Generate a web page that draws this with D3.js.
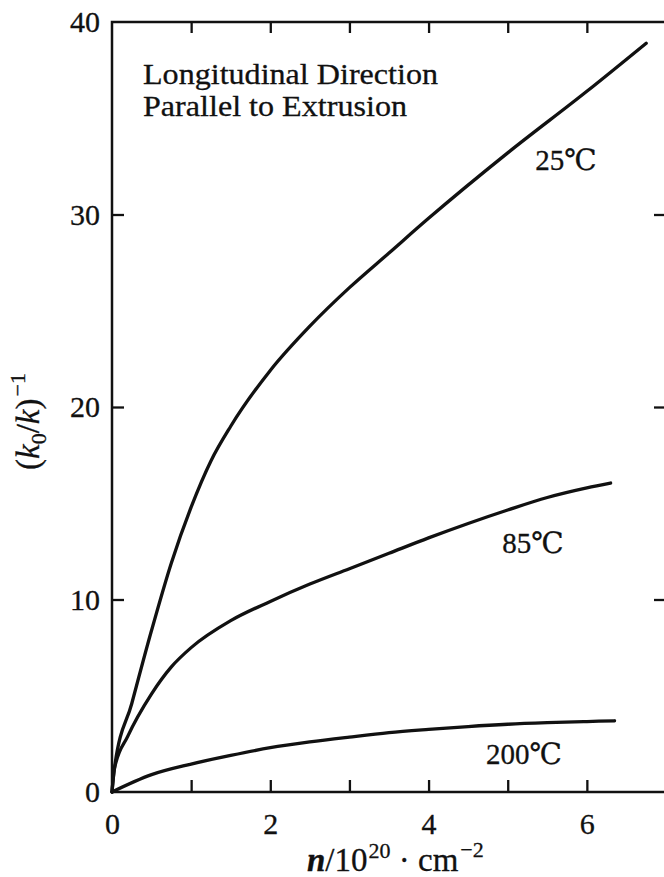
<!DOCTYPE html>
<html>
<head>
<meta charset="utf-8">
<script src="https://cdn.jsdelivr.net/npm/d3@7/dist/d3.min.js"></script>
<style>
  html, body { margin: 0; padding: 0; background: #fff; }
  svg { display: block; }
  text { font-family: "Liberation Serif", "Times New Roman", serif; fill: #111; stroke: #111; stroke-width: 0.3px; }
  text.curve-label { font-family: "Liberation Serif", "DejaVu Serif", serif; }
</style>
</head>
<body>
<svg id="chart" width="664" height="877"></svg>
<script>
// Fluence n (10^20 cm^-2) and relative thermal resistance (k0/k)^-1 per irradiation temperature
const n25 = [0, 0.03, 0.25, 0.5, 0.75, 1.0, 1.25, 1.5, 2.0, 2.5, 3.0, 3.5, 4.0, 5.0, 6.0, 6.75];
const v25 = [0, 1.2, 4.6, 8.4, 11.9, 14.8, 17.2, 19.0, 21.9, 24.2, 26.2, 28.0, 29.8, 33.2, 36.4, 38.9];
const n85 = [0, 0.03, 0.2, 0.5, 0.75, 1.0, 1.5, 2.0, 2.5, 3.0, 3.5, 4.0, 4.5, 5.0, 5.5, 6.0, 6.3];
const v85 = [0, 1.2, 2.9, 5.1, 6.5, 7.5, 8.9, 9.9, 10.8, 11.6, 12.4, 13.2, 13.95, 14.65, 15.3, 15.8, 16.05];
const n200 = [0, 0.5, 1.0, 1.5, 2.0, 2.5, 3.0, 3.5, 4.0, 4.5, 5.0, 5.5, 6.0, 6.35];
const v200 = [0, 0.9, 1.45, 1.9, 2.3, 2.6, 2.85, 3.08, 3.25, 3.4, 3.52, 3.6, 3.66, 3.7];

const seriesLabels = ["25℃", "85℃", "200℃"];
const xTicks = [0, 1, 2, 3, 4, 5, 6, 7];
const xTickLabels = [0, 2, 4, 6];
const yTicks = [0, 10, 20, 30, 40];
const noteLines = ["Longitudinal Direction", "Parallel to Extrusion"];

const svg = d3.select("#chart");
const x = d3.scaleLinear().domain([0, 7]).range([112, 666]);
const y = d3.scaleLinear().domain([0, 40]).range([792, 22]);

// frame
svg.append("rect")
  .attr("x", x(0)).attr("y", y(40))
  .attr("width", x(7) - x(0)).attr("height", y(0) - y(40))
  .attr("fill", "none").attr("stroke", "#111").attr("stroke-width", 2.5);

function styleAxis(g) {
  g.select(".domain").remove();
  g.selectAll(".tick line").attr("stroke", "#111").attr("stroke-width", 2.3);
  g.selectAll(".tick text").style("font-size", "30px");
}

// bottom axis, ticks pointing inward
svg.append("g")
  .attr("transform", `translate(0,${y(0)})`)
  .call(d3.axisBottom(x).tickValues(xTicks).tickSize(-12).tickPadding(21)
    .tickFormat(d => xTickLabels.includes(d) ? d : ""))
  .call(styleAxis);

// top axis, ticks only
svg.append("g")
  .attr("transform", `translate(0,${y(40)})`)
  .call(d3.axisTop(x).tickValues(xTicks.slice(1, 7)).tickSize(-11).tickFormat(""))
  .call(styleAxis);

// left axis
svg.append("g")
  .attr("transform", `translate(${x(0)},0)`)
  .call(d3.axisLeft(y).tickValues(yTicks).tickSize(-12).tickPadding(12))
  .call(styleAxis)
  .call(g => g.selectAll(".tick").filter(d => d === 0 || d === 40).select("line").remove());

// right axis, ticks only
svg.append("g")
  .attr("transform", `translate(${x(7)},0)`)
  .call(d3.axisRight(y).tickValues([10, 20, 30]).tickSize(-12).tickFormat(""))
  .call(styleAxis);

// curves
const line = d3.line()
  .x(d => x(d[0])).y(d => y(d[1]))
  .curve(d3.curveMonotoneX);

const series = [
  { n: n25, v: v25 },
  { n: n85, v: v85 },
  { n: n200, v: v200 }
];
series.forEach(s => {
  svg.append("path")
    .datum(s.n.map((d, i) => [d, s.v[i]]))
    .attr("d", line)
    .attr("fill", "none")
    .attr("stroke", "#111")
    .attr("stroke-width", 3.3)
    .attr("stroke-linecap", "round")
    .attr("stroke-linejoin", "round");
});

// curve labels
const labelPos = [[566, 170], [533, 553], [524, 764]];
seriesLabels.forEach((t, i) => {
  svg.append("text")
    .attr("class", "curve-label")
    .attr("x", labelPos[i][0]).attr("y", labelPos[i][1])
    .attr("text-anchor", "middle")
    .style("font-size", "29px")
    .text(t);
});

// annotation
svg.append("text").attr("x", 143).attr("y", 84)
  .style("font-size", "30px")
  .attr("textLength", 295).attr("lengthAdjust", "spacingAndGlyphs")
  .text(noteLines[0]);
svg.append("text").attr("x", 143).attr("y", 116)
  .style("font-size", "30px")
  .attr("textLength", 264).attr("lengthAdjust", "spacingAndGlyphs")
  .text(noteLines[1]);

// x-axis title: n/10^20 · cm^-2
const xt = svg.append("text")
  .attr("x", 307).attr("y", 871)
  .style("font-size", "33px");
xt.append("tspan").style("font-style", "italic").style("font-weight", "bold").text("n");
xt.append("tspan").text("/10");
xt.append("tspan").attr("dy", -13).attr("dx", 1).style("font-size", "22px").text("20");
xt.append("tspan").attr("dy", 13).text(" · cm");
xt.append("tspan").attr("dy", -14).attr("dx", 2).style("font-size", "22px").text("−2");

// y-axis title: (k0/k)^-1
const yt = svg.append("text")
  .attr("transform", "translate(39,470) rotate(-90)")
  .style("font-size", "33px");
yt.append("tspan").text("(");
yt.append("tspan").style("font-style", "italic").text("k");
yt.append("tspan").attr("dy", 7).style("font-size", "22px").text("0");
yt.append("tspan").attr("dy", -7).text("/");
yt.append("tspan").style("font-style", "italic").text("k");
yt.append("tspan").text(")");
yt.append("tspan").attr("dy", -14).attr("dx", 2).style("font-size", "22px").text("−1");
</script>
</body>
</html>
